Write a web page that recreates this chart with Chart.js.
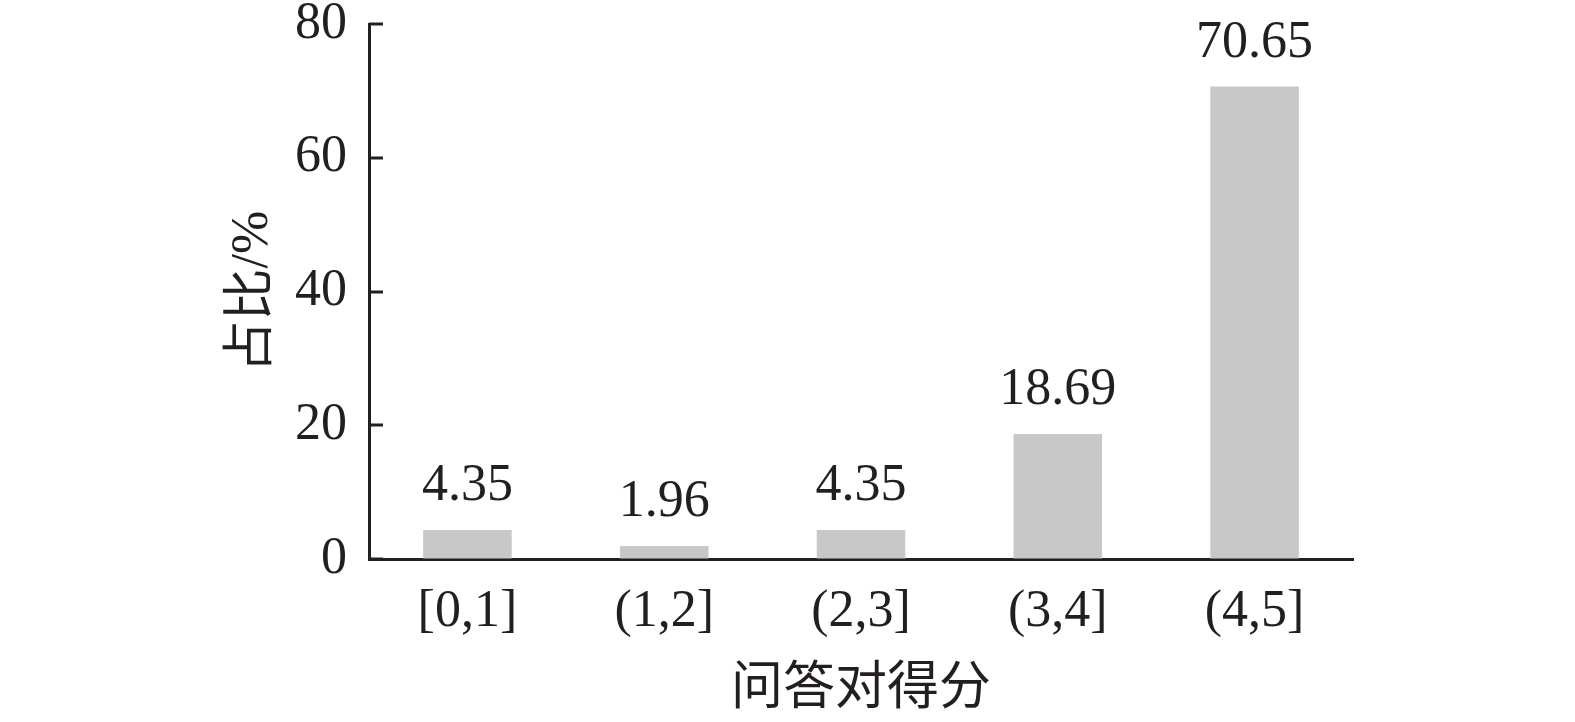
<!DOCTYPE html>
<html>
<head>
<meta charset="utf-8">
<script src="https://cdn.jsdelivr.net/npm/chart.js@4.4.0/dist/chart.umd.min.js"></script>
<style>
  html, body { margin: 0; padding: 0; background: #ffffff; }
  canvas { display: block; }
</style>
</head>
<body>
<canvas id="c" width="1575" height="722"></canvas>
<script>
const categories = ['[0,1]', '(1,2]', '(2,3]', '(3,4]', '(4,5]'];
const shares = [4.35, 1.96, 4.35, 18.69, 70.65];
const valueLabels = ['4.35', '1.96', '4.35', '18.69', '70.65'];
const yTicks = [0, 20, 40, 60, 80];
const xTitle = '问答对得分';
const yTitle = '占比/%';

const INK = '#231f20';
const FONT = "'Liberation Serif', 'Times New Roman', 'Noto Sans CJK SC', serif";

const innerTicks = {
  id: 'innerTicks',
  afterDraw(chart) {
    const ctx = chart.ctx;
    const ys = chart.scales.y;
    const left = chart.chartArea.left;
    ctx.save();
    ctx.strokeStyle = INK;
    ctx.lineWidth = 3;
    ys.ticks.forEach(t => {
      const py = Math.round(ys.getPixelForValue(t.value));
      ctx.beginPath();
      ctx.moveTo(left, py);
      ctx.lineTo(left + 14, py);
      ctx.stroke();
    });
    ctx.restore();
  }
};

const barLabels = {
  id: 'barLabels',
  afterDatasetsDraw(chart) {
    const ctx = chart.ctx;
    const meta = chart.getDatasetMeta(0);
    ctx.save();
    ctx.fillStyle = INK;
    ctx.font = "52px " + FONT;
    ctx.textAlign = 'center';
    ctx.textBaseline = 'alphabetic';
    meta.data.forEach((bar, i) => {
      ctx.fillText(valueLabels[i], bar.x, bar.y - 30);
    });
    ctx.restore();
  }
};

new Chart(document.getElementById('c'), {
  type: 'bar',
  data: {
    labels: categories,
    datasets: [{
      data: shares,
      backgroundColor: '#c8c8c8',
      borderWidth: 0,
      categoryPercentage: 1.0,
      barPercentage: 0.45
    }]
  },
  options: {
    responsive: false,
    animation: false,
    devicePixelRatio: 1,
    layout: { padding: { top: 24, right: 222, left: 0, bottom: 0 } },
    plugins: { legend: { display: false }, tooltip: { enabled: false } },
    scales: {
      x: {
        offset: true,
        grid: { display: true, drawOnChartArea: false, drawTicks: false },
        border: { display: true, color: INK, width: 3 },
        ticks: { color: INK, font: { family: FONT, size: 52 }, padding: 22, maxRotation: 0 },
        title: { display: true, text: xTitle, color: INK, font: { family: FONT, size: 52 }, padding: { top: 0, bottom: 0 } },
        afterFit(scale) { scale.height = 722 - 559; scale.paddingLeft = 0; scale.paddingRight = 0; }
      },
      y: {
        min: 0, max: 80,
        afterBuildTicks(scale) { scale.ticks = yTicks.map(v => ({ value: v })); },
        grid: { display: true, drawOnChartArea: false, drawTicks: false },
        border: { display: true, color: INK, width: 3 },
        ticks: { color: INK, font: { family: FONT, size: 52 }, padding: 22 },
        title: { display: true, text: yTitle, color: INK, font: { family: FONT, size: 52 }, padding: { top: 222, bottom: 0 } },
        afterFit(scale) { scale.width = 369; scale.paddingTop = 0; scale.paddingBottom = 0; }
      }
    }
  },
  plugins: [innerTicks, barLabels]
});
</script>
</body>
</html>
